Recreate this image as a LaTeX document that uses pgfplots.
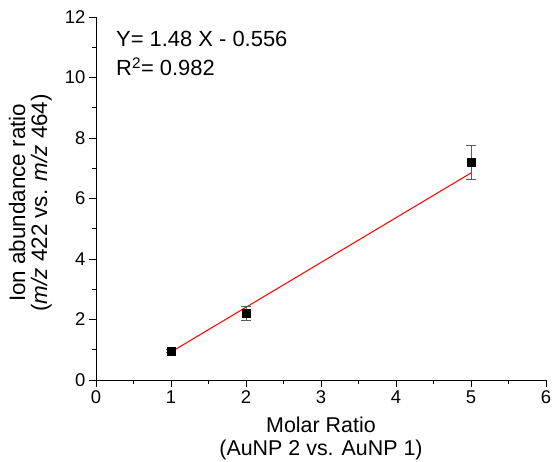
\documentclass[border=0pt]{standalone}
\usepackage{pgfplots}
\pgfplotsset{compat=1.18}
\usepackage{fontspec}
\setmainfont{Liberation Sans}

\begin{document}
\begin{tikzpicture}
\begin{axis}[
    scale only axis,
    width=450bp, height=363bp,
    xmin=0, xmax=6, ymin=0, ymax=12,
    axis x line*=bottom, axis y line*=left,
    axis line style={line width=0.9pt},
    xtick={0,1,...,6}, ytick={0,2,...,12},
    minor xtick={0.5,1.5,...,5.5}, minor ytick={1,3,...,11},
    tick align=outside,
    major tick length=7bp, minor tick length=4bp,
    every tick/.style={black, line width=0.8pt},
    tick label style={font=\fontsize{18.5}{20}\selectfont},
    /pgf/number format/assume math mode=true,
    xlabel={Molar Ratio\\(AuNP 2 vs. AuNP 1)},
    ylabel={Ion abundance ratio\\(\textit{m/z} 422 vs. \textit{m/z} 464)},
    every axis x label/.style={at={(axis description cs:0.5,-0.162)}, anchor=center,
        font=\fontsize{21.5}{23}\selectfont, align=center},
    every axis y label/.style={at={(axis description cs:-0.146,0.488)}, anchor=center,
        rotate=90, font=\fontsize{22.5}{22}\selectfont, align=center},
    clip=false,
]
\addplot[red!90!orange, line width=1.1pt] coordinates {(1, 0.924) (5, 6.844)};
\addplot[only marks, mark=square*, mark size=4bp, black,
    error bars/.cd, y dir=both, y explicit,
    error bar style={gray!70!black, line width=0.7pt},
    error mark options={rotate=90, mark size=5bp, gray!70!black, line width=0.7pt}]
    coordinates {
    (1, 0.95) +- (0, 0.05)
    (2, 2.20) +- (0, 0.22)
    (5, 7.20) +- (0, 0.56)
};
\node[anchor=base west, inner sep=0pt, font=\fontsize{22}{24}\selectfont] at (axis cs:0.267,11.04) {Y= 1.48 X - 0.556};
\node[anchor=base west, inner sep=0pt, font=\fontsize{22}{24}\selectfont] at (axis cs:0.267,10.05) {R\textsuperscript{2}= 0.982};
\end{axis}
\pgfresetboundingbox
\path (-96bp,-82bp) rectangle (456bp,380bp);
\end{tikzpicture}
\end{document}
